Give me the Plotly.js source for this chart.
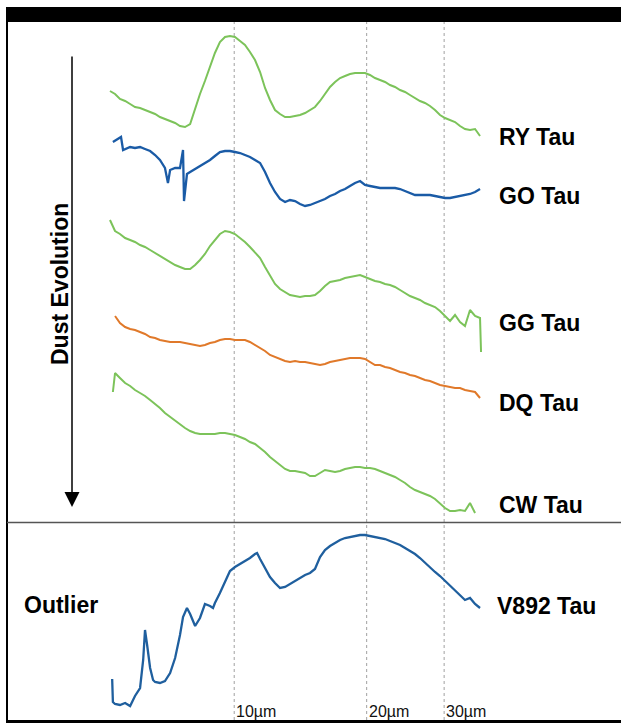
<!DOCTYPE html>
<html>
<head>
<meta charset="utf-8">
<script src="https://cdn.plot.ly/plotly-3.0.1.min.js"></script>
<style>html,body{margin:0;padding:0;background:#fff;}#chart{width:621px;height:723px;}</style>
</head>
<body>
<div id="chart"></div>
<script>
// Wavelength grid (micron), shared by most spectra
const wlGrid = [5.22,5.36,5.50,5.65,5.80,5.95,6.11,6.27,6.44,6.61,
  6.78,6.96,7.15,7.34,7.53,7.73,7.94,8.15,8.36,8.58,
  8.81,9.04,9.28,9.53,9.78,10.04,10.31,10.58,10.86,11.15,
  11.45,11.75,12.06,12.38,12.71,13.05,13.39,13.75,14.11,14.49,
  14.87,15.26,15.67,16.08,16.51,16.95,17.40,17.86,18.33,18.82,
  19.32,19.83,20.35,20.89,21.45,22.02,22.60,23.20,23.82,24.45,
  25.09,25.76,26.44,27.14,27.86,28.60,29.36,30.14,30.94,31.76,
  32.60,33.46,34.35,35.27,36.20];

const stars = ["RY Tau","GO Tau","GG Tau","DQ Tau","CW Tau","V892 Tau"];
const offsets = [580, 510, 370, 320, 200, 0];
const colors = ["#7cc35a","#1a5ba6","#7cc35a","#e0792a","#7cc35a","#1f5f9e"];

// RY Tau (relative flux)
const wlRY = wlGrid.slice();
const fluxRY = [52,49,44,42,39,36,35,33,31,29,
  26,24,22,20,17,16,19,35,49,62,
  77,90,101,106,107,106,102,98,91,83,
  71,55,43,33,29,26,26,27,28,30,
  33,36,42,49,56,61,65,67,69,70,
  70,70,68,65,63,61,58,56,53,51,
  48,45,42,40,37,33,28,25,23,21,
  17,14,13,14,7];

// GO Tau
const wlGO = [5.30,5.44,5.53,5.59].concat(wlGrid.slice(3,12),[7.07],wlGrid.slice(12,15),[7.65,7.69,7.81],wlGrid.slice(16));
const fluxGO = [71,74,76,63, 64,66,65,66,64,62,58,53,45, 30, 43,45,45, 63,12,39,
  41,44,47,50,53,57,61,62,62,61,
  60,58,56,53,50,41,30,21,14,11,
  13,12,9,7,8,10,12,14,17,19,
  22,24,27,30,32,28,27,26,25,25,
  25,25,24,22,20,18,18,18,18,17,
  16,15,15,16,17,18,19,21,24];

// GG Tau
const wlGG = wlGrid.concat([36.39]);
const fluxGG = [133,122,119,115,113,111,108,106,103,100,
  97,94,91,88,86,84,84,88,93,99,
  107,113,119,122,121,119,115,111,106,101,
  95,86,77,69,64,61,58,57,56,57,
  57,58,62,67,71,72,73,75,76,77,
  78,76,74,72,71,69,68,66,63,60,
  57,55,53,50,48,46,42,37,32,38,
  31,27,43,37,35,1];

// DQ Tau
const wlDQ = wlGrid.slice(1);
const fluxDQ = [87,80,76,74,73,71,69,66,65,63,
  62,61,61,61,60,59,58,57,58,60,
  61,63,64,64,63,63,63,61,58,55,
  52,48,46,44,42,41,42,41,41,40,
  39,38,39,41,42,43,44,45,45,45,
  44,41,38,38,36,35,33,31,30,28,
  27,25,23,22,20,18,17,16,15,15,
  13,12,11,5];

// CW Tau
const wlCW = [5.30].concat(wlGrid.slice(1,74));
const fluxCW = [131,
  150,145,140,137,133,130,127,123,119,115,
  110,106,102,99,95,92,90,89,89,89,
  89,90,90,89,88,86,84,81,79,75,
  71,66,62,58,54,52,52,51,50,47,
  47,50,53,52,51,52,54,55,56,56,
  55,55,54,52,50,48,46,43,40,36,
  33,31,29,27,24,19,15,12,12,13,
  12,20,10];

// V892 Tau (outlier)
const wlV892 = [5.28,5.30,5.36,5.50,5.65,5.80,5.95,6.11,6.21,6.27,6.34,6.44,6.54,6.61,6.78,6.96,7.15,7.34,7.53,7.65,7.81,7.94,8.15,8.36,8.58,8.81,8.95,9.04,9.28,9.53,9.78,10.04,10.31,10.58,10.86,11.15,11.27,11.45].concat(wlGrid.slice(31));
const fluxV892 = [44,21,19,18,20,17,27,35,63,93,78,55,43,41,40,42,50,65,88,106,115,109,97,105,119,117,115,120,130,142,152,156,159,162,165,169,170,164,
  155,146,140,135,136,139,142,145,148,150,
  154,166,173,177,180,183,185,186,187,188,
  188,187,186,185,184,182,180,178,175,172,
  169,165,160,156,151,147,142,138,133,128,
  123,125,119,115];

const gridWl = [10, 20, 30];
const gridLabels = ["10\u00b5m","20\u00b5m","30\u00b5m"];
const labelY = [137, 196, 323, 403, 505, 606]; // vertical pixel centre of each name

const wls = [wlRY, wlGO, wlGG, wlDQ, wlCW, wlV892];
const fluxes = [fluxRY, fluxGO, fluxGG, fluxDQ, fluxCW, fluxV892];
const widths = [2, 2.3, 2, 2, 2, 2.3];

const W = 621, H = 723;
const traces = stars.map((s, i) => ({
  type: 'scatter', mode: 'lines', name: s,
  x: wls[i], y: fluxes[i].map(v => v + offsets[i]),
  line: {color: colors[i], width: widths[i]},
  hoverinfo: 'skip'
}));

const FONT = "Liberation Sans, Arial, Helvetica, sans-serif";
const py = p => (H - p) / H;
const pxp = p => p / W;

const shapes = [];
gridWl.forEach(g => shapes.push({type:'line', xref:'x', yref:'paper', x0:g, x1:g, y0:py(720), y1:py(22),
  line:{color:'#a0a0a0', width:1, dash:'dot'}, layer:'below'}));
shapes.push({type:'rect', xref:'paper', yref:'paper', x0:pxp(6), x1:1, y0:py(22), y1:py(7), fillcolor:'#000', line:{width:0}});
shapes.push({type:'rect', xref:'paper', yref:'paper', x0:pxp(6), x1:1, y0:0, y1:py(720), fillcolor:'#000', line:{width:0}});
shapes.push({type:'line', xref:'paper', yref:'paper', x0:pxp(7), x1:pxp(7), y0:0, y1:py(7), line:{color:'#000', width:2}});
shapes.push({type:'line', xref:'paper', yref:'paper', x0:pxp(7), x1:1, y0:py(522.5), y1:py(522.5), line:{color:'#555', width:1.6}});

const annotations = [];
stars.forEach((s, i) => annotations.push({xref:'paper', yref:'paper', x:pxp(i===5?495:497), y:py(labelY[i]),
  xanchor:'left', yanchor:'middle', text:'<b>'+s+'</b>', showarrow:false,
  font:{family:FONT, size:23, color:'#000'}}));
gridWl.forEach((g, i) => annotations.push({xref:'x', yref:'paper', x:Math.log10(g), y:py(711), xanchor:'left', yanchor:'middle',
  xshift:0, text:gridLabels[i], showarrow:false, font:{family:FONT, size:16, color:'#111'}}));
annotations.push({xref:'paper', yref:'paper', x:pxp(45), y:py(284), text:'<b>Dust Evolution</b>', textangle:-90,
  showarrow:false, font:{family:FONT, size:23, color:'#000'}});
annotations.push({xref:'paper', yref:'paper', x:pxp(22), y:py(605), xanchor:'left', yanchor:'middle', text:'<b>Outlier</b>',
  showarrow:false, font:{family:FONT, size:23, color:'#000'}});
annotations.push({xref:'paper', yref:'paper', x:pxp(72), y:py(507), text:'', showarrow:true, ax:0, ay:-452,
  arrowhead:2, arrowsize:2, arrowwidth:1.5, arrowcolor:'#000'});

const layout = {
  width: W, height: H, autosize: false,
  margin: {l:0, r:0, t:0, b:0, pad:0},
  paper_bgcolor:'#fff', plot_bgcolor:'#fff',
  showlegend: false,
  xaxis: {type:'log', range:[0.4677, 1.8791], visible:false, fixedrange:true},
  yaxis: {range:[0, 723], visible:false, fixedrange:true},
  shapes: shapes, annotations: annotations
};

Plotly.newPlot('chart', traces, layout, {displayModeBar:false, staticPlot:true});
</script>
</body>
</html>
